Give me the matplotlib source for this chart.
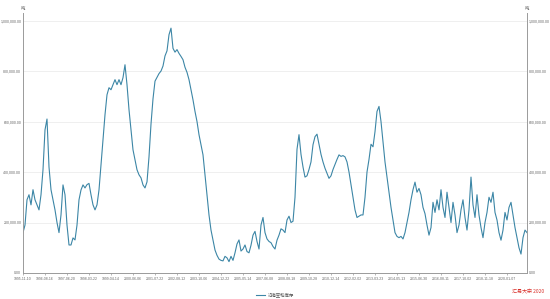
import matplotlib
matplotlib.use("Agg")
import matplotlib.pyplot as plt
import numpy as np

plt.rcParams['font.family'] = ['Noto Sans CJK SC', 'DejaVu Sans']

values_k = [
    160, 190, 290, 310, 270, 330, 290, 270, 250, 310,
    409, 567, 610, 420, 330, 290, 250, 200, 160, 230,
    349, 310, 190, 111, 111, 139, 131, 190, 290, 329,
    349, 337, 350, 355, 310, 270, 250, 270, 329, 429,
    528, 627, 706, 734, 726, 746, 766, 746, 766, 746,
    774, 825, 746, 647, 567, 488, 448, 409, 389, 377,
    349, 337, 361, 460, 590, 690, 760, 775, 790, 800,
    820, 860, 880, 944, 970, 890, 875, 885, 870, 858,
    845, 815, 795, 766, 726, 686, 640, 600, 548, 508,
    468, 390, 310, 230, 170, 131, 91, 70, 55, 50,
    48, 66, 60, 45, 66, 50, 80, 115, 131, 87,
    95, 111, 85, 80, 110, 150, 165, 125, 95, 190,
    220, 160, 135, 125, 120, 105, 95, 130, 150, 175,
    170, 160, 210, 225, 200, 205, 300, 490, 548, 470,
    420, 380, 385, 410, 440, 508, 540, 550, 510, 470,
    440, 415, 395, 375, 385, 410, 430, 450, 468, 462,
    465, 460, 440, 400, 350, 300, 250, 220, 225, 230,
    230, 300, 400, 450, 510, 500, 560, 640, 660, 600,
    520, 440, 380, 320, 260, 210, 160, 145, 140, 145,
    135, 160, 200, 240, 290, 330, 360, 320, 335, 310,
    260, 235, 190, 150, 180, 280, 240, 290, 250, 330,
    260, 220, 320, 260, 200, 280, 230, 160, 190, 250,
    290, 220, 170, 250, 380, 270, 220, 310, 230, 180,
    140, 200, 240, 300, 280, 320, 240, 210, 160, 130,
    170, 240, 210, 260, 280, 230, 180, 140, 100, 75,
    140, 170, 160,
]
values = np.array(values_k) * 1000.0

date_labels = [
    "1995-11-10", "1996-08-16", "1997-06-20", "1998-03-22", "1999-04-14",
    "2000-06-06", "2001-07-22", "2002-08-12", "2003-10-06", "2004-12-22",
    "2005-05-14", "2007-06-08", "2008-08-18", "2009-10-28", "2010-12-14",
    "2012-02-02", "2013-03-23", "2014-05-13", "2015-06-30", "2016-08-11",
    "2017-10-02", "2018-11-18", "2020-01-07",
]
label_step = 11

y_ticks = [0, 200000, 400000, 600000, 800000, 1000000]
series_name = "沿海豆粕库存"
unit = "吨"
source = "汇易大宗 2020"

fig = plt.figure(figsize=(5.5, 2.99), dpi=100)
ax = fig.add_axes([23/550, 26/299, 504/550, 260/299])

x = np.arange(len(values))
line_color = "#3c86a6"
ax.plot(x, values, color=line_color, lw=0.8, label=series_name)

ax.set_xlim(0, len(values) - 1)
ax.set_ylim(0, 1030000)
ax.set_yticks(y_ticks)
ax.set_yticklabels([f"{v:,.2f}" for v in y_ticks])
ax.set_xticks(np.arange(len(date_labels)) * label_step)
ax.set_xticklabels(date_labels)

ax.grid(axis='y', color='#ececec', lw=0.6)
ax.set_axisbelow(True)
for s in ['left', 'right', 'bottom']:
    ax.spines[s].set_color('#9a9a9a')
    ax.spines[s].set_linewidth(0.7)
ax.spines['top'].set_visible(False)

ax.tick_params(axis='y', length=0, labelsize=2.5, labelcolor='#666666', pad=1.2,
               labelright=True, right=False)
ax.tick_params(axis='x', length=1.2, width=0.5, color='#9a9a9a', labelsize=2.5,
               labelcolor='#666666', pad=1.5)
for t in ax.get_xticklabels() + ax.get_yticklabels() + ax.get_yticklabels(which='major'):
    t.set_family('Liberation Sans')
for t in ax.yaxis.get_majorticklabels():
    t.set_family('Liberation Sans')
for tk in ax.yaxis.get_major_ticks():
    tk.label2.set_family('Liberation Sans')

ax.text(0, 1.008, unit, transform=ax.transAxes, ha='center', va='bottom',
        fontsize=3.2, color='#555555')
ax.text(1, 1.008, unit, transform=ax.transAxes, ha='center', va='bottom',
        fontsize=3.2, color='#555555')

leg = ax.legend(loc='upper center', bbox_to_anchor=(0.5, -0.06), frameon=False,
                fontsize=3.2, handlelength=2.2, handletextpad=0.6)
for t in leg.get_texts():
    t.set_color('#555555')

fig.text(0.99, 0.015, source, ha='right', va='bottom', fontsize=3.6, color='#d9302a',
         style='italic')

fig.savefig("out.png", dpi=100)
